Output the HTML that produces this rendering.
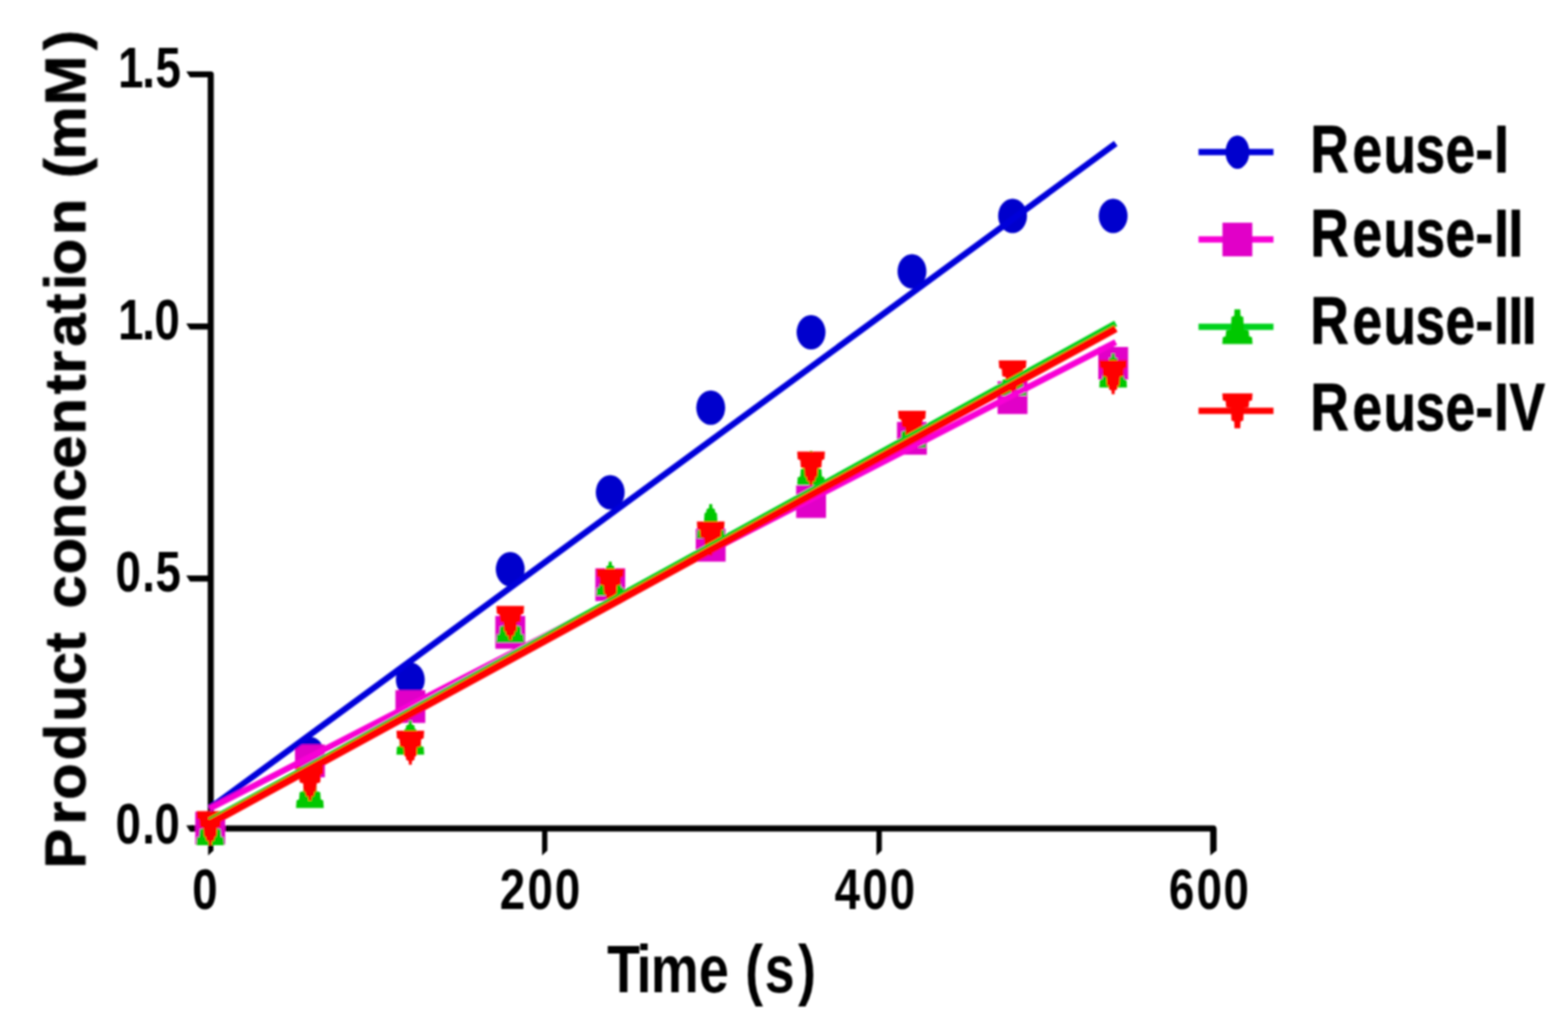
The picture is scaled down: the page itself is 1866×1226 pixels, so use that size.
<!DOCTYPE html>
<html lang="en"><head><meta charset="utf-8"><title>Product concentration vs time</title>
<style>html,body{margin:0;padding:0;background:#fff;}body{width:1866px;height:1226px;overflow:hidden;}svg{display:block;}text{font-family:"Liberation Sans",sans-serif;font-weight:bold;fill:#000;white-space:pre;}</style>
</head><body>
<svg width="1866" height="1226" viewBox="0 0 1866 1226" role="img" aria-label="Product concentration (mM) versus Time (s) for Reuse-I to Reuse-IV">
<rect width="1866" height="1226" fill="#fff"/>
<defs><filter id="soft" x="0" y="0" width="1866" height="1226" filterUnits="userSpaceOnUse"><feGaussianBlur stdDeviation="0.85 1.1"/></filter></defs>
<g filter="url(#soft)">
<g id="axes" stroke="#000" stroke-width="7.2" fill="none" stroke-linecap="butt">
<path d="M226 88.5 H250.8 V986.1 H1444 V1013" stroke-linejoin="round"/>
<path d="M226 986.1 H250.8"/>
</g>
<g id="ticks" fill="#000">
<path d="M250.8 84.9 H221.6 L226.2 92.1 H250.8 Z"/>
<path d="M250.8 385 H221.6 L226.2 392.2 H250.8 Z"/>
<path d="M250.8 685 H221.6 L226.2 692.2 H250.8 Z"/>
<path d="M250.8 982.5 H221.6 L226.2 989.7 H250.8 Z"/>
<path d="M247.7 986.1 V1018.2 L254 1012.4 V986.1 Z"/>
<path d="M645.1 986.1 V1018.2 L651.4 1012.4 V986.1 Z"/>
<path d="M1043 986.1 V1018.2 L1049.4 1012.4 V986.1 Z"/>
<path d="M1440.4 986.1 V1018.2 L1447.6 1012.4 V986.1 Z"/>
</g>
<g id="yticks">
<text transform="translate(0 104) scale(0.800 1)" font-size="68" x="175.5 211.6 231.3" y="0">1.5</text>
<text transform="translate(0 404) scale(0.800 1)" font-size="68" x="175.5 211.6 229.7" y="0">1.0</text>
<text transform="translate(0 704) scale(0.800 1)" font-size="68" x="171.9 211.6 231.3" y="0">0.5</text>
<text transform="translate(0 1004) scale(0.800 1)" font-size="68" x="171.9 211.6 229.7" y="0">0.0</text>
</g>
<g id="xticks">
<text transform="translate(0 1081.5) scale(0.800 1)" font-size="68" x="285.9" y="0">0</text>
<text transform="translate(0 1081.5) scale(0.800 1)" font-size="68" x="743.3 784.7 825.3" y="0">200</text>
<text transform="translate(0 1081.5) scale(0.800 1)" font-size="68" x="1241.6 1282.7 1323.3" y="0">400</text>
<text transform="translate(0 1081.5) scale(0.800 1)" font-size="68" x="1738.9 1779.9 1820.1" y="0">600</text>
</g>
<text transform="translate(0 1181) scale(0.800 1)" font-size="80" x="903.2 946.8 968.2 1039.6 1084.1 1108.5 1137.4 1187.2" y="0">Time (s)</text>
<text transform="translate(101.4 0) rotate(-90) scale(1.030 1)" font-size="69" x="-1003.8 -953.1 -924.3 -878.6 -834.1 -791.9 -753.7 -730.7 -703.3 -663.7 -623.4 -579.6 -541.5 -502.2 -455.7 -432 -400.6 -362.1 -335.2 -318 -271.6 -229.5 -206 -184.2 -121.6 -57.9" y="0" stroke="#000" stroke-width="0.9" stroke-linejoin="round">Product concentration (mM)</text>
<g id="markers">
<ellipse cx="250.2" cy="985.8" rx="17.2" ry="20.5" fill="#0000cd"/>
<ellipse cx="368.8" cy="897.5" rx="17.2" ry="20.5" fill="#0000cd"/>
<ellipse cx="488.3" cy="809" rx="17.2" ry="20.5" fill="#0000cd"/>
<ellipse cx="607.2" cy="677.5" rx="17.2" ry="20.5" fill="#0000cd"/>
<ellipse cx="726.2" cy="586" rx="17.2" ry="20.5" fill="#0000cd"/>
<ellipse cx="845.8" cy="485.3" rx="17.2" ry="20.5" fill="#0000cd"/>
<ellipse cx="965.2" cy="395.5" rx="17.2" ry="20.5" fill="#0000cd"/>
<ellipse cx="1085.3" cy="323" rx="17.2" ry="20.5" fill="#0000cd"/>
<ellipse cx="1205" cy="257" rx="17.2" ry="20.5" fill="#0000cd"/>
<ellipse cx="1324.7" cy="257" rx="17.2" ry="20.5" fill="#0000cd"/>
<rect x="232.4" y="966.3" width="35.5" height="39" fill="#e100c8"/>
<rect x="351.1" y="886.2" width="35.5" height="39" fill="#e100c8"/>
<rect x="470.6" y="821.5" width="35.5" height="39" fill="#e100c8"/>
<rect x="589.5" y="733.2" width="35.5" height="39" fill="#e100c8"/>
<rect x="708.5" y="676.5" width="35.5" height="39" fill="#e100c8"/>
<rect x="828" y="629.5" width="35.5" height="39" fill="#e100c8"/>
<rect x="947.5" y="577.5" width="35.5" height="39" fill="#e100c8"/>
<rect x="1067.5" y="502.2" width="35.5" height="39" fill="#e100c8"/>
<rect x="1187.2" y="453.8" width="35.5" height="39" fill="#e100c8"/>
<rect x="1307" y="413" width="35.5" height="39" fill="#e100c8"/>
<path d="M251.9 965.5 L252.2 970.1 L255 971.3 L255.6 975.2 L257.6 976.4 L258.2 986.1 L262.4 987.3 L263.1 995.8 L266.1 997 L266.7 1006.1 L233.7 1006.1 L234.3 997 L237.3 995.8 L237.9 987.3 L242.2 986.1 L242.8 976.4 L244.8 975.2 L245.4 971.3 L248.2 970.1 L248.5 965.5 Z" fill="#00c800"/>
<path d="M370.5 921.2 L370.8 925.8 L373.6 927 L374.2 930.9 L376.2 932.1 L376.8 941.8 L381.1 943 L381.7 951.5 L384.7 952.7 L385.3 961.8 L352.3 961.8 L352.9 952.7 L355.9 951.5 L356.6 943 L360.8 941.8 L361.4 932.1 L363.4 930.9 L364 927 L366.8 925.8 L367.1 921.2 Z" fill="#00c800"/>
<path d="M490 857.7 L490.3 862.3 L493.1 863.5 L493.7 867.4 L495.7 868.6 L496.3 878.3 L500.6 879.5 L501.2 888 L504.2 889.2 L504.8 898.3 L471.8 898.3 L472.4 889.2 L475.4 888 L476.1 879.5 L480.3 878.3 L480.9 868.6 L482.9 867.4 L483.5 863.5 L486.3 862.3 L486.6 857.7 Z" fill="#00c800"/>
<path d="M608.9 724.2 L609.2 728.8 L612 730 L612.6 733.9 L614.6 735.1 L615.2 744.8 L619.5 746 L620.1 754.5 L623.1 755.7 L623.7 764.8 L590.7 764.8 L591.3 755.7 L594.4 754.5 L595 746 L599.2 744.8 L599.8 735.1 L601.8 733.9 L602.4 730 L605.2 728.8 L605.5 724.2 Z" fill="#00c800"/>
<path d="M727.9 668.5 L728.2 673.1 L731 674.3 L731.6 678.2 L733.6 679.4 L734.2 689.1 L738.5 690.3 L739.1 698.8 L742.1 700 L742.7 709.1 L709.7 709.1 L710.3 700 L713.4 698.8 L714 690.3 L718.2 689.1 L718.8 679.4 L720.8 678.2 L721.4 674.3 L724.2 673.1 L724.5 668.5 Z" fill="#00c800"/>
<path d="M847.5 600.1 L847.8 604.7 L850.6 605.9 L851.2 609.8 L853.2 611 L853.8 620.7 L858 621.9 L858.6 630.4 L861.7 631.6 L862.3 640.7 L829.3 640.7 L829.9 631.6 L832.9 630.4 L833.5 621.9 L837.8 620.7 L838.4 611 L840.4 609.8 L841 605.9 L843.8 604.7 L844.1 600.1 Z" fill="#00c800"/>
<path d="M966.9 536.7 L967.2 541.3 L970 542.5 L970.6 546.4 L972.6 547.6 L973.2 557.3 L977.5 558.5 L978.1 567 L981.1 568.2 L981.7 577.3 L948.7 577.3 L949.3 568.2 L952.4 567 L953 558.5 L957.2 557.3 L957.8 547.6 L959.8 546.4 L960.4 542.5 L963.2 541.3 L963.5 536.7 Z" fill="#00c800"/>
<path d="M1087 492.2 L1087.3 496.8 L1090.1 498 L1090.7 501.9 L1092.7 503.1 L1093.3 512.8 L1097.5 514 L1098.1 522.5 L1101.2 523.7 L1101.8 532.8 L1068.8 532.8 L1069.4 523.7 L1072.5 522.5 L1073 514 L1077.3 512.8 L1077.9 503.1 L1079.9 501.9 L1080.5 498 L1083.3 496.8 L1083.6 492.2 Z" fill="#00c800"/>
<path d="M1206.7 430.5 L1207 435.1 L1209.8 436.3 L1210.4 440.2 L1212.4 441.4 L1213 451.1 L1217.2 452.3 L1217.8 460.8 L1220.9 462 L1221.5 471.1 L1188.5 471.1 L1189.1 462 L1192.2 460.8 L1192.8 452.3 L1197 451.1 L1197.6 441.4 L1199.6 440.2 L1200.2 436.3 L1203 435.1 L1203.3 430.5 Z" fill="#00c800"/>
<path d="M1326.4 420.7 L1326.7 425.3 L1329.5 426.5 L1330.1 430.4 L1332.1 431.6 L1332.7 441.3 L1337 442.5 L1337.5 451 L1340.6 452.2 L1341.2 461.3 L1308.2 461.3 L1308.8 452.2 L1311.9 451 L1312.5 442.5 L1316.7 441.3 L1317.3 431.6 L1319.3 430.4 L1319.9 426.5 L1322.7 425.3 L1323 420.7 Z" fill="#00c800"/>
<path d="M251.9 1006.1 L252.2 1001.5 L255 1000.3 L255.6 996.4 L257.6 995.2 L258.2 985.5 L262.4 984.3 L263.1 975.8 L266.1 974.6 L266.7 965.5 L233.7 965.5 L234.3 974.6 L237.3 975.8 L237.9 984.3 L242.2 985.5 L242.8 995.2 L244.8 996.4 L245.4 1000.3 L248.2 1001.5 L248.5 1006.1 Z" fill="#ff0000"/>
<path d="M370.5 953 L370.8 948.4 L373.6 947.2 L374.2 943.3 L376.2 942.1 L376.8 932.4 L381.1 931.2 L381.7 922.7 L384.7 921.5 L385.3 912.4 L352.3 912.4 L352.9 921.5 L355.9 922.7 L356.6 931.2 L360.8 932.4 L361.4 942.1 L363.4 943.3 L364 947.2 L366.8 948.4 L367.1 953 Z" fill="#ff0000"/>
<path d="M490 910.3 L490.3 905.7 L493.1 904.5 L493.7 900.6 L495.7 899.4 L496.3 889.7 L500.6 888.5 L501.2 880 L504.2 878.8 L504.8 869.7 L471.8 869.7 L472.4 878.8 L475.4 880 L476.1 888.5 L480.3 889.7 L480.9 899.4 L482.9 900.6 L483.5 904.5 L486.3 905.7 L486.6 910.3 Z" fill="#ff0000"/>
<path d="M608.9 761.8 L609.2 757.2 L612 756 L612.6 752.1 L614.6 750.9 L615.2 741.2 L619.5 740 L620.1 731.5 L623.1 730.3 L623.7 721.2 L590.7 721.2 L591.3 730.3 L594.4 731.5 L595 740 L599.2 741.2 L599.8 750.9 L601.8 752.1 L602.4 756 L605.2 757.2 L605.5 761.8 Z" fill="#ff0000"/>
<path d="M727.9 717.7 L728.2 713.1 L731 711.9 L731.6 708 L733.6 706.8 L734.2 697.1 L738.5 695.9 L739.1 687.4 L742.1 686.2 L742.7 677.1 L709.7 677.1 L710.3 686.2 L713.4 687.4 L714 695.9 L718.2 697.1 L718.8 706.8 L720.8 708 L721.4 711.9 L724.2 713.1 L724.5 717.7 Z" fill="#ff0000"/>
<path d="M847.5 661.3 L847.8 656.7 L850.6 655.5 L851.2 651.6 L853.2 650.4 L853.8 640.7 L858 639.5 L858.6 631 L861.7 629.8 L862.3 620.7 L829.3 620.7 L829.9 629.8 L832.9 631 L833.5 639.5 L837.8 640.7 L838.4 650.4 L840.4 651.6 L841 655.5 L843.8 656.7 L844.1 661.3 Z" fill="#ff0000"/>
<path d="M966.9 578 L967.2 573.4 L970 572.2 L970.6 568.3 L972.6 567.1 L973.2 557.4 L977.5 556.2 L978.1 547.7 L981.1 546.5 L981.7 537.4 L948.7 537.4 L949.3 546.5 L952.4 547.7 L953 556.2 L957.2 557.4 L957.8 567.1 L959.8 568.3 L960.4 572.2 L963.2 573.4 L963.5 578 Z" fill="#ff0000"/>
<path d="M1087 529.7 L1087.3 525.1 L1090.1 523.9 L1090.7 520 L1092.7 518.8 L1093.3 509.1 L1097.5 507.9 L1098.1 499.4 L1101.2 498.2 L1101.8 489.1 L1068.8 489.1 L1069.4 498.2 L1072.5 499.4 L1073 507.9 L1077.3 509.1 L1077.9 518.8 L1079.9 520 L1080.5 523.9 L1083.3 525.1 L1083.6 529.7 Z" fill="#ff0000"/>
<path d="M1206.7 469.5 L1207 464.9 L1209.8 463.7 L1210.4 459.8 L1212.4 458.6 L1213 448.9 L1217.2 447.7 L1217.8 439.2 L1220.9 438 L1221.5 428.9 L1188.5 428.9 L1189.1 438 L1192.2 439.2 L1192.8 447.7 L1197 448.9 L1197.6 458.6 L1199.6 459.8 L1200.2 463.7 L1203 464.9 L1203.3 469.5 Z" fill="#ff0000"/>
<path d="M1326.4 469.3 L1326.7 464.7 L1329.5 463.5 L1330.1 459.6 L1332.1 458.4 L1332.7 448.7 L1337 447.5 L1337.5 439 L1340.6 437.8 L1341.2 428.7 L1308.2 428.7 L1308.8 437.8 L1311.9 439 L1312.5 447.5 L1316.7 448.7 L1317.3 458.4 L1319.3 459.6 L1319.9 463.5 L1322.7 464.7 L1323 469.3 Z" fill="#ff0000"/>
</g>
<g id="fits" fill="none" stroke-width="7.4">
<path d="M249.4 962.2 L1327.8 170.7" stroke="#0000da" stroke-width="7.4"/>
<path d="M249.4 962.5 L1327.8 407.2" stroke="#f800d6" stroke-width="7.4"/>
<path d="M249.4 977.1 L1327.8 385.1" stroke="#00d21e" stroke-width="7.4"/>
<path d="M249.4 980.5 L1327.8 391.1" stroke="#ff0000" stroke-width="9"/>
</g>
<g id="legend">
<path d="M1426.3 181.1 H1515.5" stroke="#0000da" stroke-width="7.5" fill="none"/>
<ellipse cx="1472.6" cy="181.1" rx="14.2" ry="19.8" fill="#0000cd"/>
<text transform="translate(0 204.5) scale(0.790 1)" font-size="80" x="1974 2037.3 2084.3 2132.3 2177.6 2222.4 2250.7" y="0" stroke="#000" stroke-width="1.0" stroke-linejoin="round">Reuse-I</text>
<path d="M1426.3 285.1 H1515.5" stroke="#f800d6" stroke-width="7.5" fill="none"/>
<rect x="1454.8" y="265.1" width="35.5" height="40" fill="#e100c8"/>
<text transform="translate(0 304.9) scale(0.790 1)" font-size="80" x="1974 2037.3 2084.3 2132.3 2177.6 2222.4 2250.7 2272.1" y="0" stroke="#000" stroke-width="1.0" stroke-linejoin="round">Reuse-II</text>
<path d="M1426.3 388.9 H1515.5" stroke="#00d21e" stroke-width="7.5" fill="none"/>
<path d="M1476 368.2 L1476.3 376.1 L1479.6 377.3 L1480.2 392.3 L1486 393.5 L1486.6 400.3 L1490 401.5 L1490.6 409.6 L1454.6 409.6 L1455.2 401.5 L1458.6 400.3 L1459.2 393.5 L1464.9 392.3 L1465.5 377.3 L1468.8 376.1 L1469.1 368.2 Z" fill="#00c800"/>
<text transform="translate(0 408.9) scale(0.790 1)" font-size="80" x="1974 2037.3 2084.3 2132.3 2177.6 2222.4 2250.7 2272.1 2292.5" y="0" stroke="#000" stroke-width="1.0" stroke-linejoin="round">Reuse-III</text>
<path d="M1426.3 489 H1515.5" stroke="#ff0000" stroke-width="7.5" fill="none"/>
<path d="M1476 509.7 L1476.3 501.8 L1479.6 500.6 L1480.2 485.6 L1486 484.4 L1486.6 477.6 L1490 476.4 L1490.6 468.3 L1454.6 468.3 L1455.2 476.4 L1458.6 477.6 L1459.2 484.4 L1464.9 485.6 L1465.5 500.6 L1468.8 501.8 L1469.1 509.7 Z" fill="#ff0000"/>
<text transform="translate(0 512.4) scale(0.790 1)" font-size="80" x="1974 2037.3 2084.3 2132.3 2177.6 2222.4 2250.7 2273.9" y="0" stroke="#000" stroke-width="1.0" stroke-linejoin="round">Reuse-IV</text>
</g>
</g>
</svg>
</body></html>
